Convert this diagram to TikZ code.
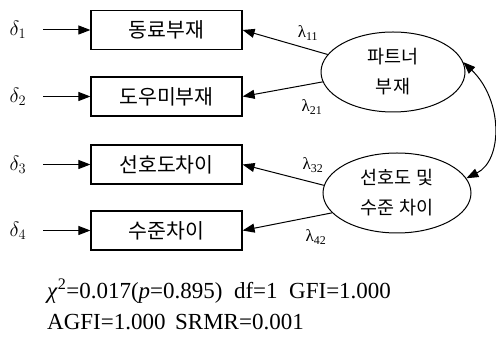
\documentclass[tikz,border=0pt]{standalone}
\usepackage{fontspec}
\setmainfont{Liberation Serif}
\newfontfamily\kr{Noto Sans CJK KR}
\usetikzlibrary{arrows.meta,shapes.geometric}
\begin{document}
\begin{tikzpicture}[x=1pt,y=-1pt,
  obs/.style={draw, line width=1.2pt, minimum width=151pt, minimum height=39pt, inner sep=0pt, font=\kr\fontsize{20.5}{21}\selectfont},
  lat/.style={draw, ellipse, line width=1pt, minimum height=80pt, inner sep=0pt, align=center, font=\kr\fontsize{18.5}{30}\selectfont},
  err/.style={inner sep=0pt, font=\fontsize{21}{22}\selectfont},
  lam/.style={inner sep=0pt, font=\fontsize{17}{18}\selectfont},
  arr/.style={-{Triangle[length=12pt,width=9pt]}, line width=1pt},
  barr/.style={{Triangle[length=12pt,width=9pt]}-{Triangle[length=12pt,width=9pt]}, line width=1pt},
  stat/.style={anchor=west, inner sep=0pt, font=\fontsize{23}{24}\selectfont}]
\useasboundingbox (0,0) rectangle (496,344);
\node[obs] (b1) at (166.5,30) {동료부재};
\node[obs] (b2) at (166.5,96.5) {도우미부재};
\node[obs] (b3) at (166.5,164.5) {선호도차이};
\node[obs] (b4) at (166.5,230.5) {수준차이};
\node[err] (d1) at (18,30) {$\delta_1$};
\node[err] (d2) at (18,96.5) {$\delta_2$};
\node[err] (d3) at (18,164.5) {$\delta_3$};
\node[err] (d4) at (18,230.5) {$\delta_4$};
\foreach \i in {1,2,3,4} \draw[arr, shorten <=17pt] (d\i.east) -- (b\i.west);
\node[lat, minimum width=144pt] (e1) at (393,72) {파트너\\부재};
\node[lat, minimum width=148pt] (e2) at (397,193) {선호도 및\\수준 차이};
\draw[arr] (e1.165) -- (b1.east);
\draw[arr] (e1.188) -- (b2.east);
\draw[arr] (e2.174) -- (b3.east);
\draw[arr] (e2.197) -- (b4.east);
\node[lam] (l1) at (308,33) {λ\textsubscript{11}};
\node[lam] (l2) at (312,107) {λ\textsubscript{21}};
\node[lam] (l3) at (313,165) {λ\textsubscript{32}};
\node[lam] (l4) at (316,237) {λ\textsubscript{42}};
\draw[barr] (e1.8) .. controls (503,100) and (503,160) .. (e2.12);
\node[stat] (s1) at (47,291) {\textit{χ}\textsuperscript{2}=0.017(\textit{p}=0.895)\ \ df=1\ \ GFI=1.000};
\node[stat] (s2) at (47,322) {AGFI=1.000\ \,SRMR=0.001};
\end{tikzpicture}
\end{document}
